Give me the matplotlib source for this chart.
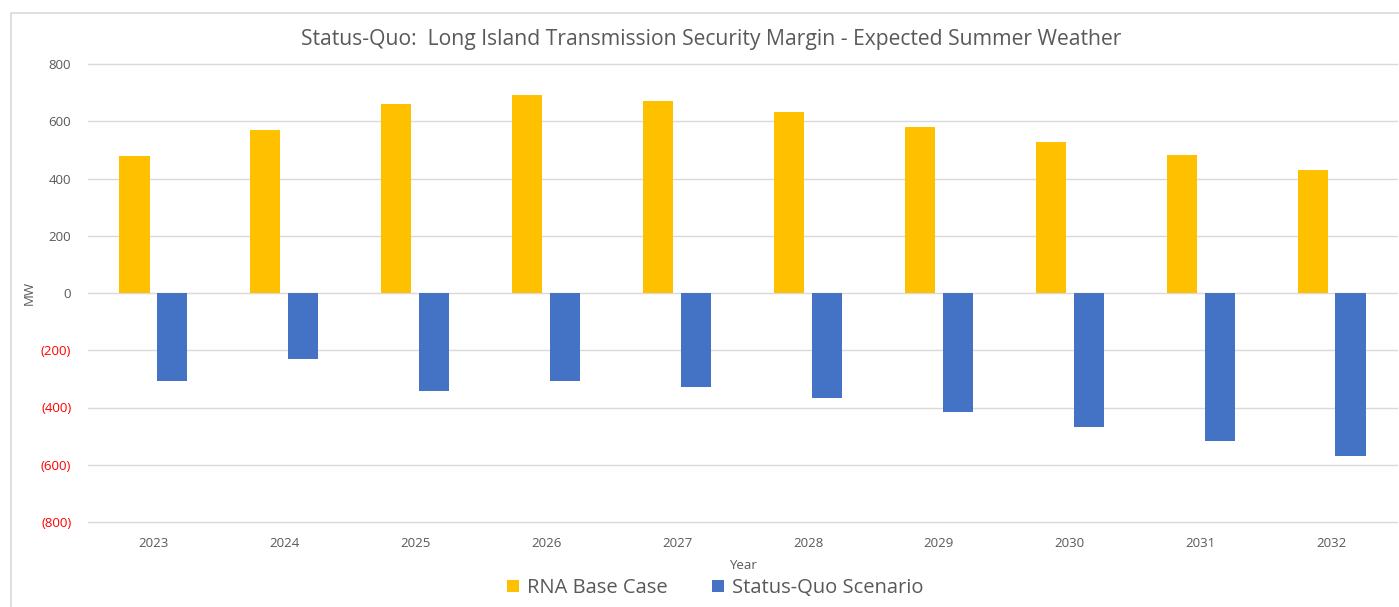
import matplotlib.pyplot as plt
import numpy as np
from matplotlib.patches import Rectangle

years = ["2023", "2024", "2025", "2026", "2027", "2028", "2029", "2030", "2031", "2032"]
rna_base = [477, 571, 659, 693, 671, 634, 581, 529, 481, 430]
status_quo = [-309, -229, -343, -306, -329, -367, -416, -467, -516, -568]
yticks = [800, 600, 400, 200, 0, -200, -400, -600, -800]

grey = "#595959"
plt.rcParams['font.family'] = ['Open Sans', 'DejaVu Sans']

fig = plt.figure(figsize=(13.99, 6.07), dpi=100)
ax = fig.add_axes([88 / 1399, 85 / 607, 1309 / 1399, 458 / 607])

# chart area frame
fig.patches.append(Rectangle((11 / 1399, -0.1), 1.2, 1 - 13 / 607 + 0.1, transform=fig.transFigure,
                             fill=False, edgecolor="#d9d9d9", linewidth=1.2))

x = np.arange(len(years))
w = 0.23
ax.bar(x - 0.145, rna_base, w, color="#FFC000", label="RNA Base Case", zorder=3)
ax.bar(x + 0.145, status_quo, w, color="#4472C4", label="Status-Quo Scenario", zorder=3)

ax.set_xlim(-0.5, len(years) - 0.5)
ax.set_ylim(-800, 800)
ax.set_yticks(yticks)
ax.set_yticklabels([f"{v:,}" if v >= 0 else f"({-v:,})" for v in yticks], fontsize=9.5)
for lab, v in zip(ax.get_yticklabels(), yticks):
    lab.set_color("#FF0000" if v < 0 else grey)
ax.set_xticks(x)
ax.set_xticklabels(years, fontsize=9.5, color=grey)
ax.tick_params(length=0, pad=12)
ax.tick_params(axis="x", pad=11)
ax.grid(axis="y", color="#d9d9d9", linewidth=1, zorder=0)
for gl in ax.get_ygridlines():
    gl.set_clip_on(False)
for s in ax.spines.values():
    s.set_visible(False)

ax.set_ylabel("MW", fontsize=9.5, color=grey)
ax.yaxis.set_label_coords(-52 / 1309, 0.5)
ax.set_xlabel("Year", fontsize=9.5, color=grey, labelpad=6)

fig.text(711 / 1399, 1 - 40 / 607, "Status-Quo:  Long Island Transmission Security Margin - Expected Summer Weather",
         ha="center", va="center", fontsize=15.2, color=grey)

fig.legend(loc="center", bbox_to_anchor=(715 / 1399, 1 - 588 / 607), ncol=2, frameon=False,
           fontsize=14.5, labelcolor=grey, handlelength=0.6, handleheight=0.6, handletextpad=0.4,
           columnspacing=2.2)

fig.savefig("out.png", dpi=100)
